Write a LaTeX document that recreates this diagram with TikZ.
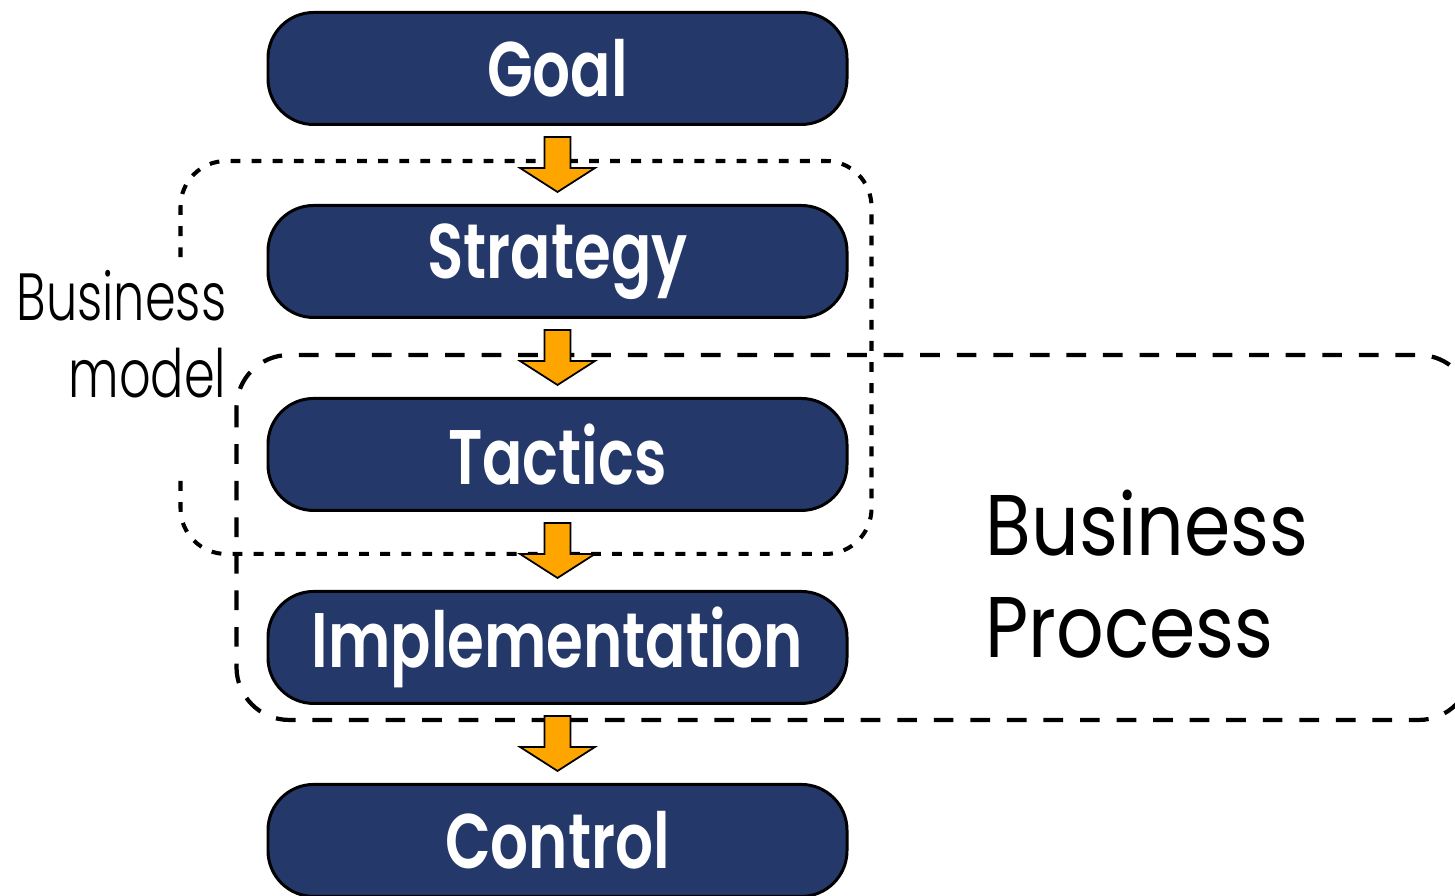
\documentclass[tikz,border=0pt]{standalone}
\usepackage{fontspec}
\setmainfont{Poppins}
\newfontfamily\stepfont[FakeStretch=0.77,BoldFont={Poppins SemiBold}]{Poppins}
\newfontfamily\labelfont[FakeStretch=0.74]{Poppins Light}
\newfontfamily\bigfont[FakeStretch=0.866]{Poppins}
\usetikzlibrary{positioning,calc}
\definecolor{stepblue}{RGB}{36,57,106}
\definecolor{arroworange}{RGB}{255,165,0}

\begin{document}
\begin{tikzpicture}[
            stepbox/.style={
                draw=black,line width=0.85pt,fill=stepblue,
                rounded corners=13pt,
                minimum width=5.79cm,minimum height=1.12cm,
                inner sep=0pt,
                text=white,font=\stepfont\bfseries\fontsize{22}{24}\selectfont
            },
            blockarrow/.style={draw=black,line width=0.5pt,fill=arroworange},
            modelbox/.style={line width=1.15pt,dash pattern=on 2.8pt off 3.2pt,rounded corners=13pt},
            processbox/.style={line width=1.2pt,dash pattern=on 5.6pt off 4.8pt,rounded corners=15pt},
            node distance=0.78cm
        ]
            \useasboundingbox (0,0) rectangle (14.55,-8.96);

            \node [stepbox] (goal) at (5.575,-0.685) {Goal};
            \node [stepbox,below=of goal] (strategy) {Strategy};
            \node [stepbox,below=of strategy] (tactics) {Tactics};
            \node [stepbox,below=of tactics] (impl) {Implementation};
            \node [stepbox,below=of impl] (control) {Control};

            \coordinate (bmnw) at ($(strategy.north west)+(-0.86,0.43)$);
            \coordinate (bmse) at ($(tactics.south east)+(0.23,-0.42)$);
            \draw [modelbox] ($(bmnw |- bmse)+(0,0.73)$)
                -- (bmnw |- bmse)
                -- (bmse)
                -- (bmse |- bmnw)
                -- (bmnw)
                -- ($(bmnw)+(0,-1.0)$)
            ;
            \draw [processbox] ($(tactics.north west)+(-0.3,0.42)$)
                rectangle ($(impl.south east)+(6.23,-0.15)$)
            ;

            \foreach \from/\to in {goal/strategy,strategy/tactics,tactics/impl,impl/control} {
                \path (\from.south) -- (\to.north) coordinate[pos=0.5] (mid);
                \draw [blockarrow,shift={(mid)}] (-0.13,0.28)
                    -- (0.13,0.28)
                    -- (0.13,-0.03)
                    -- (0.375,-0.03)
                    -- (0,-0.27)
                    -- (-0.375,-0.03)
                    -- (-0.13,-0.03)
                    -- cycle
                ;
            }

            \node [anchor=east,align=right,inner sep=0pt,
                font=\labelfont\fontsize{19}{22}\selectfont] (model) at (2.27,-3.34) {Business\\model};
            \node [anchor=west,align=left,inner sep=0pt,
                font=\bigfont\fontsize{24.5}{29}\selectfont] (process) at (9.85,-5.74) {Business\\Process};
        \end{tikzpicture}
\end{document}
